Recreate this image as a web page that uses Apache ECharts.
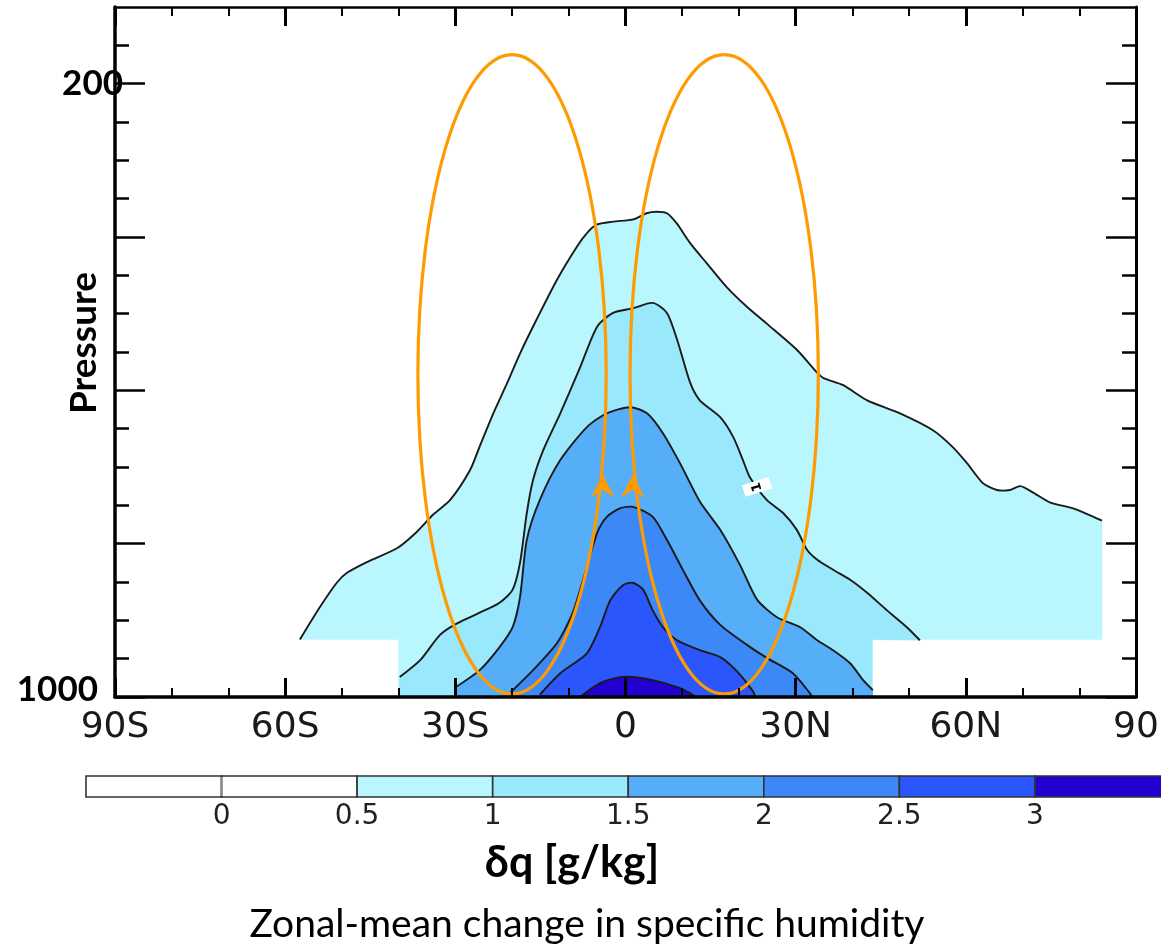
<!DOCTYPE html>
<html><head><meta charset="utf-8">
<script src="https://cdn.jsdelivr.net/npm/echarts@6/dist/echarts.min.js"></script>
<style>html,body{margin:0;padding:0;background:#fff}#c{width:1161px;height:944px}</style>
</head><body><div id="c"></div>
<script>
// ---- axes / ticks ----
const latTicks = [-90, -60, -30, 0, 30, 60, 90];
const latLabels = ['90S', '60S', '30S', '0', '30N', '60N', '90'];
const pMajor = [200, 400, 600, 800, 1000];
const pMinor = [150, 250, 300, 350, 450, 500, 550, 650, 700, 750, 850, 900, 950];
const pLabels = [200, 1000];

// ---- contour levels (g/kg) and fill colours ----
const levels = [0.5, 1, 1.5, 2, 2.5, 3];
const levelColors = ['#b9f6fd', '#99e8fb', '#56adf8', '#3c88f6', '#2a56fb', '#2200cf'];

// contour lines [lat, pressure]
const c05 = [[-57.4,925],[-53.9,883],[-50.9,851],[-49.1,838],[-45.6,824],[-40.3,806],[-37.0,786],[-33.9,762],[-30.9,743],[-27.4,704],[-25.7,673],[-23.3,630],[-20.9,591],[-18.6,552],[-15.7,508],[-12.1,456],[-8.6,413],[-6.8,395],[-5.1,384],[-2.2,380],[1.4,377],[3.7,369],[5.5,367],[7.3,369],[9.0,382],[11.4,408],[14.3,434],[17.8,465],[21.4,491],[24.9,513],[30.2,547],[33.8,577],[34.9,584],[38.3,593],[42.6,613],[48.4,630],[54.2,652],[57.7,674],[60.2,695],[63.0,721],[65.5,730],[67.8,730],[69.6,725],[71.8,733],[74.8,746],[78.9,754],[81.9,763],[84.0,770]];
const c10 = [[-39.8,974],[-36.2,952],[-32.7,919],[-29.7,904],[-25.7,890],[-22.2,877],[-19.9,860],[-18.6,825],[-17.4,760],[-16.3,717],[-14.5,678],[-11.5,630],[-8.0,570],[-5.0,517],[-2.2,499],[1.3,493],[4.8,486],[7.3,499],[9.1,534],[11.4,590],[13.1,613],[16.7,635],[19.0,661],[20.7,691],[21.9,713],[24.9,743],[27.8,760],[30.2,782],[32.0,808],[33.8,821],[36.6,834],[39.6,847],[42.6,864],[46.1,887],[49.6,909],[51.9,926]];
const c15 = [[-30.1,988],[-25.7,965],[-22.2,935],[-19.9,909],[-18.6,870],[-17.4,795],[-15.1,743],[-11.5,691],[-6.8,648],[-3.3,630],[0.8,622],[3.8,630],[6.6,656],[9.6,695],[13.1,745],[16.7,782],[20.2,828],[23.2,873],[26.7,896],[30.8,909],[33.8,926],[36.6,939],[39.6,956],[41.9,978],[43.6,991]];
const c20 = [[-20.4,995],[-16.3,965],[-12.1,930],[-9.3,890],[-6.8,830],[-5.0,786],[-3.3,765],[-1.0,754],[1.3,752],[4.8,765],[7.3,795],[10.1,834],[13.1,874],[16.7,906],[21.4,932],[24.9,949],[29.5,969],[32.5,995],[32.9,1000]];
const c25 = [[-15.1,997],[-11.5,969],[-6.8,943],[-4.5,909],[-2.7,874],[-0.4,854],[1.3,851],[3.1,860],[4.8,887],[6.6,909],[9.1,926],[13.1,939],[16.7,948],[19.7,967],[22.5,993],[22.9,1000]];
const c30 = [[-8.0,1000],[-4.5,982],[-1.0,974],[1.3,974],[4.8,978],[9.1,987],[11.4,995],[12.3,1000]];
// closing edges of each filled region (masked ground / data edge)
const m05 = [[84.0,925],[43.5,925],[43.5,1000],[-40.0,1000],[-40.0,925]];
const m10 = [[43.5,925],[43.5,1000],[-39.8,1000]];
const m15 = [[43.6,1000],[-30.1,1000]];
const m20 = [[-20.4,1000]];
const m25 = [[-15.1,1000]];
const m30 = [];
const contours = [c05, c10, c15, c20, c25, c30];
const closures = [m05, m10, m15, m20, m25, m30];

// contour label
const lineLabel = [[23.2, 726, '1']];

// circulation cells: [centre lat, centre p, half-width lat, half-height hPa]
const cells = [[-20.0, 579, 16.6, 417], [17.4, 579, 16.6, 417]];
const arrowTips = [[-4.0, 710], [1.3, 710]];

// colour bar
const barEdges = [-0.5, 0, 0.5, 1, 1.5, 2, 2.5, 3, 4.2];
const barColors = ['#ffffff', '#ffffff', '#b9f6fd', '#99e8fb', '#56adf8', '#3c88f6', '#2a56fb', '#2200cf'];
const barLabels = [0, 0.5, 1, 1.5, 2, 2.5, 3];

const TICKFONT = '"DejaVu Sans", "Liberation Sans", sans-serif';
const SLIDEFONT = 'Lato, "Open Sans", sans-serif';
const ORANGE = '#ff9a00';

const chart = echarts.init(document.getElementById('c'), null, {renderer: 'canvas'});

function frameX(pos, showLabel, lineW) {
  return {
    type: 'value', gridIndex: 0, position: pos, min: -90, max: 90, interval: 30, z: 10,
    axisLine: {show: true, onZero: false, lineStyle: {color: '#000', width: lineW}},
    axisTick: {show: true, inside: true, length: 19, lineStyle: {color: '#000', width: 3}},
    minorTick: {show: true, splitNumber: 3, length: 9, lineStyle: {color: '#000', width: 2}},
    splitLine: {show: false}, minorSplitLine: {show: false},
    axisLabel: {
      show: showLabel, margin: 13, fontSize: 36, color: '#1a1a1a', fontFamily: TICKFONT,
      formatter: v => { const i = latTicks.indexOf(v); return i >= 0 ? latLabels[i] : ''; }
    }
  };
}
function frameY(pos, ticks, len, showLine, lineW, withLabels) {
  const ax = {
    type: 'value', gridIndex: 0, position: pos, offset: 0, min: 100, max: 1000, inverse: true, z: 10,
    axisLine: {show: showLine, onZero: false, lineStyle: {color: '#000', width: lineW}},
    axisTick: {show: true, inside: true, length: len, customValues: ticks, lineStyle: {color: '#000', width: 2.5}},
    splitLine: {show: false},
    axisLabel: {show: false}
  };
  if (withLabels) {
    ax.axisLabel = {
      show: true, customValues: pLabels, margin: -8,
      formatter: v => v === 1000 ? '{b|' + v + '}' : '{a|' + v + '}',
      rich: {
        a: {fontSize: 35, fontWeight: 'bold', fontFamily: SLIDEFONT, color: '#000'},
        b: {fontSize: 35, fontWeight: 'bold', fontFamily: SLIDEFONT, color: '#000', padding: [0, 25, 14, 0]}
      }
    };
    ax.name = 'Pressure';
    ax.nameLocation = 'middle';
    ax.nameGap = 12;
    ax.nameMoveOverlap = false;
    ax.nameTextStyle = {fontSize: 37, fontWeight: 'bold', fontFamily: SLIDEFONT, color: '#000', padding: [0, 0, 0, 18]};
  }
  return ax;
}

const option = {
  animation: false,
  backgroundColor: '#ffffff',
  grid: [
    {left: 115, right: 25, top: 7, bottom: 247, containLabel: false, outerBoundsMode: 'none'},
    {left: 86, right: 0, top: 776, height: 21, containLabel: false, outerBoundsMode: 'none'}
  ],
  xAxis: [
    frameX('bottom', true, 3.5),
    frameX('top', false, 2.5),
    {
      type: 'value', gridIndex: 1, min: -0.5, max: 3.465,
      axisLine: {show: false}, axisTick: {show: false}, splitLine: {show: false},
      axisLabel: {show: true, customValues: barLabels, margin: 6, fontSize: 28, color: '#222', fontFamily: TICKFONT, formatter: v => String(v)}
    }
  ],
  yAxis: [
    frameY('left', pMajor, 30, true, 3.5, true),
    frameY('left', pMinor, 14, false, 0, false),
    frameY('right', pMajor, 30, true, 3, false),
    frameY('right', pMinor, 14, false, 0, false),
    {type: 'value', gridIndex: 1, min: 0, max: 1, show: false}
  ],
  graphic: [
    {type: 'text', x: 572, y: 863, style: {text: 'δq [g/kg]', align: 'center', verticalAlign: 'middle', fontSize: 43, fontWeight: 'bold', fontFamily: SLIDEFONT, fill: '#000'}},
    {type: 'text', x: 587, y: 924, style: {text: 'Zonal-mean change in specific humidity', align: 'center', verticalAlign: 'middle', fontSize: 39, fontFamily: SLIDEFONT, fill: '#000'}}
  ],
  series: [
    {
      name: 'fills', type: 'custom', xAxisIndex: 0, yAxisIndex: 0, clip: true, z: 2,
      data: levels.map((v, i) => [0, 500, i]),
      renderItem: (params, api) => {
        const i = params.dataIndex;
        const pts = contours[i].concat(closures[i]).map(p => api.coord(p));
        return {type: 'polygon', shape: {points: pts}, style: {fill: levelColors[i], stroke: levelColors[i], lineWidth: 0.5}};
      }
    },
    {
      name: 'contours', type: 'custom', xAxisIndex: 0, yAxisIndex: 0, clip: true, z: 3,
      data: levels.map((v, i) => [0, 500, i]),
      renderItem: (params, api) => {
        const i = params.dataIndex;
        const pts = contours[i].map(p => api.coord(p));
        return {type: 'polyline', shape: {points: pts, smooth: 0.25}, style: {fill: null, stroke: '#1a1a1a', lineWidth: 1.9}};
      }
    },
    {
      name: 'label', type: 'custom', xAxisIndex: 0, yAxisIndex: 0, z: 4,
      data: lineLabel,
      renderItem: (params, api) => {
        const p = api.coord([api.value(0), api.value(1)]);
        return {
          type: 'group', x: p[0], y: p[1], rotation: 0.3,
          children: [
            {type: 'rect', shape: {x: -14, y: -6, width: 28, height: 12}, style: {fill: '#fff'}},
            {type: 'text', rotation: Math.PI / 2, style: {text: lineLabel[params.dataIndex][2], align: 'center', verticalAlign: 'middle', fontSize: 13, fontWeight: 'bold', fontFamily: TICKFONT, fill: '#000'}}
          ]
        };
      }
    },
    {
      name: 'cells', type: 'custom', xAxisIndex: 0, yAxisIndex: 0, clip: false, z: 5,
      data: cells,
      renderItem: (params, api) => {
        const c = api.coord([api.value(0), api.value(1)]);
        const r = api.coord([api.value(0) + api.value(2), api.value(1)]);
        const t = api.coord([api.value(0), api.value(1) - api.value(3)]);
        const rx = r[0] - c[0], ry = c[1] - t[1], k = 0.5523;
        const cx = c[0], cy = c[1];
        const st = {fill: null, stroke: ORANGE, lineWidth: 3.2};
        const q = (x1, y1, a1, b1, a2, b2, x2, y2) => ({type: 'bezierCurve', shape: {x1, y1, cpx1: a1, cpy1: b1, cpx2: a2, cpy2: b2, x2, y2}, style: st});
        return {type: 'group', children: [
          q(cx + rx, cy, cx + rx, cy - k * ry, cx + k * rx, cy - ry, cx, cy - ry),
          q(cx, cy - ry, cx - k * rx, cy - ry, cx - rx, cy - k * ry, cx - rx, cy),
          q(cx - rx, cy, cx - rx, cy + k * ry, cx - k * rx, cy + ry, cx, cy + ry),
          q(cx, cy + ry, cx + k * rx, cy + ry, cx + rx, cy + k * ry, cx + rx, cy)
        ]};
      }
    },
    {
      name: 'arrows', type: 'custom', xAxisIndex: 0, yAxisIndex: 0, clip: false, z: 6,
      data: arrowTips,
      renderItem: (params, api) => {
        const p = api.coord([api.value(0), api.value(1)]);
        const x = p[0], y = p[1];
        return {type: 'polygon', shape: {points: [[x, y], [x + 12, y + 23], [x, y + 15], [x - 12, y + 23]]}, style: {fill: ORANGE}};
      }
    },
    {
      name: 'colorbar', type: 'custom', xAxisIndex: 2, yAxisIndex: 4, clip: false, z: 2,
      data: barColors.map((c, i) => [barEdges[i], barEdges[i + 1], i]),
      renderItem: (params, api) => {
        const i = params.dataIndex;
        const a = api.coord([barEdges[i], 1]);
        const b = api.coord([barEdges[i + 1], 0]);
        const cell = {type: 'rect', shape: {x: a[0], y: a[1], width: b[0] - a[0], height: b[1] - a[1]},
          style: {fill: barColors[i], stroke: '#333', lineWidth: 1.6}};
        if (barEdges[i] !== 0) return cell;
        return {type: 'group', children: [cell,
          {type: 'line', shape: {x1: a[0], y1: a[1] + 1, x2: a[0], y2: b[1] - 1}, style: {stroke: '#8a8a8a', lineWidth: 2}}]};
      }
    }
  ]
};
chart.setOption(option);
</script>
</body></html>
